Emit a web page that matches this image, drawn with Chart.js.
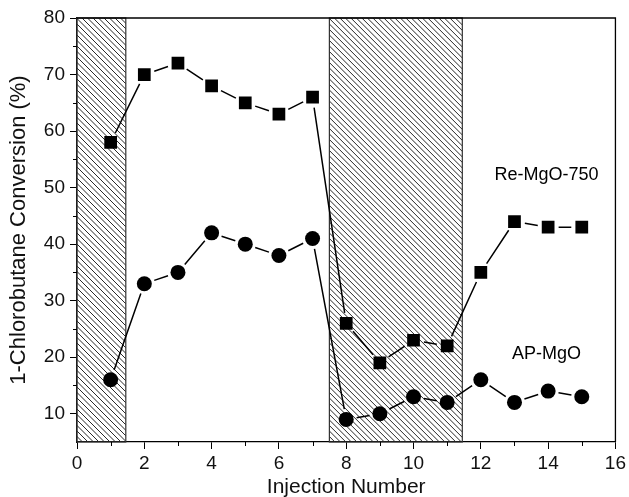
<!DOCTYPE html>
<html>
<head>
<meta charset="utf-8">
<script src="https://cdn.jsdelivr.net/npm/chart.js@4/dist/chart.umd.min.js"></script>
<style>
  html, body { margin: 0; padding: 0; background: #fff; }
  #wrap { width: 629px; height: 497px; }
</style>
</head>
<body>
<div id="wrap"><canvas id="canvas"></canvas></div>
<script>
// injection numbers and conversions
const injections = [1, 2, 3, 4, 5, 6, 7, 8, 9, 10, 11, 12, 13, 14, 15];
const reMgO750 = [58, 70, 72, 68, 65, 63, 66, 26, 19, 23, 22, 35, 44, 43, 43];
const apMgO = [16, 33, 35, 42, 40, 38, 41, 9, 10, 13, 12, 16, 12, 14, 13];

// hatched (shaded) injection ranges
const shadedRanges = [[0, 1.45], [7.5, 11.45]];

// text labels placed in data units
const seriesLabels = [
  { text: 'Re-MgO-750', x: 13.95, y: 52.2 },
  { text: 'AP-MgO', x: 13.95, y: 20.5 }
];

const FONT = '"Liberation Sans", Arial, sans-serif';

function toPoints(ys) {
  return injections.map((x, i) => ({ x: x, y: ys[i] }));
}

// hatch boxes, then connecting lines with little gaps at the markers
const decorPlugin = {
  id: 'decor',
  beforeDatasetsDraw(chart) {
    const ctx = chart.ctx;
    const xs = chart.scales.x, ys = chart.scales.y;
    const top = ys.getPixelForValue(80), bottom = ys.getPixelForValue(5);

    for (let r of shadedRanges) {
      const x0 = xs.getPixelForValue(r[0]), x1 = xs.getPixelForValue(r[1]);
      ctx.save();
      ctx.beginPath();
      ctx.rect(x0, top, x1 - x0, bottom - top);
      ctx.clip();
      ctx.strokeStyle = '#111';
      ctx.lineWidth = 0.9;
      const h = bottom - top;
      ctx.beginPath();
      for (let c = x0 - h; c < x1 + 6; c += 5.5) {
        ctx.moveTo(c, top);
        ctx.lineTo(c + h, bottom);
      }
      ctx.stroke();
      ctx.restore();
      ctx.save();
      ctx.strokeStyle = '#333';
      ctx.lineWidth = 1.2;
      ctx.strokeRect(x0, top, x1 - x0, bottom - top);
      ctx.restore();
    }

    // connecting lines
    chart.data.datasets.forEach((ds, di) => {
      const pts = chart.getDatasetMeta(di).data;
      ctx.save();
      ctx.strokeStyle = '#000';
      ctx.lineWidth = 1.5;
      ctx.beginPath();
      for (let i = 0; i < pts.length - 1; i++) {
        const a = pts[i], b = pts[i + 1];
        const dx = b.x - a.x, dy = b.y - a.y;
        const len = Math.sqrt(dx * dx + dy * dy);
        const gap = 10.5;
        if (len <= gap * 2) continue;
        const ux = dx / len, uy = dy / len;
        ctx.moveTo(a.x + ux * gap, a.y + uy * gap);
        ctx.lineTo(b.x - ux * gap, b.y - uy * gap);
      }
      ctx.stroke();
      ctx.restore();
    });
  },
  afterDraw(chart) {
    const ctx = chart.ctx;
    const area = chart.chartArea;
    const xs = chart.scales.x, ys = chart.scales.y;

    // frame (top and right sides)
    ctx.save();
    ctx.strokeStyle = '#000';
    ctx.lineWidth = 1.3;
    ctx.beginPath();
    ctx.moveTo(area.left, area.top);
    ctx.lineTo(area.right, area.top);
    ctx.lineTo(area.right, area.bottom);
    ctx.stroke();

    // minor ticks
    ctx.lineWidth = 1;
    ctx.beginPath();
    for (let v = 1; v < 16; v += 2) {
      const px = Math.round(xs.getPixelForValue(v)) + 0.5;
      ctx.moveTo(px, area.bottom);
      ctx.lineTo(px, area.bottom + 4);
    }
    for (let v = 15; v < 80; v += 10) {
      const py = Math.round(ys.getPixelForValue(v)) + 0.5;
      ctx.moveTo(area.left, py);
      ctx.lineTo(area.left - 4, py);
    }
    ctx.stroke();

    // series labels
    ctx.fillStyle = '#000';
    ctx.font = '18px ' + FONT;
    ctx.textAlign = 'center';
    ctx.textBaseline = 'middle';
    for (let l of seriesLabels) {
      ctx.fillText(l.text, xs.getPixelForValue(l.x), ys.getPixelForValue(l.y));
    }
    ctx.restore();
  }
};

const ctx = document.getElementById('canvas').getContext('2d');
const myChart = new Chart(ctx, {
  type: 'scatter',
  data: {
    datasets: [
      {
        label: 'Re-MgO-750',
        data: toPoints(reMgO750),
        showLine: false,
        pointStyle: 'rect',
        pointRadius: 9,
        pointBackgroundColor: '#000',
        pointBorderColor: '#000',
        pointBorderWidth: 0
      },
      {
        label: 'AP-MgO',
        data: toPoints(apMgO),
        showLine: false,
        pointStyle: 'circle',
        pointRadius: 7.5,
        pointBackgroundColor: '#000',
        pointBorderColor: '#000',
        pointBorderWidth: 0
      }
    ]
  },
  options: {
    responsive: true,
    maintainAspectRatio: false,
    animation: false,
    events: [],
    layout: { padding: { top: 18, right: 12, left: 0, bottom: 0 } },
    plugins: {
      legend: { display: false },
      tooltip: { enabled: false }
    },
    scales: {
      x: {
        type: 'linear',
        min: 0,
        max: 16,
        afterFit(scale) { scale.height = 55; },
        border: { display: true, color: '#000', width: 1.3 },
        grid: { drawOnChartArea: false, drawTicks: true, tickLength: 7, tickColor: '#000', tickWidth: 1 },
        ticks: {
          stepSize: 2,
          color: '#111',
          padding: 3,
          maxRotation: 0,
          font: { family: FONT, size: 19 }
        },
        title: {
          display: true,
          text: 'Injection Number',
          color: '#111',
          font: { family: FONT, size: 21, lineHeight: 1 },
          padding: { top: 0, bottom: -1 }
        }
      },
      y: {
        type: 'linear',
        min: 5,
        max: 80,
        afterFit(scale) { scale.width = 77; },
        border: { display: true, color: '#000', width: 1.3 },
        grid: { drawOnChartArea: false, drawTicks: true, tickLength: 7, tickColor: '#000', tickWidth: 1 },
        ticks: {
          stepSize: 10,
          includeBounds: false,
          color: '#111',
          padding: 5,
          font: { family: FONT, size: 19 }
        },
        title: {
          display: true,
          text: '1-Chlorobutane Conversion (%)',
          color: '#111',
          font: { family: FONT, size: 22, lineHeight: 1 },
          padding: { top: 8, bottom: 0 }
        }
      }
    }
  },
  plugins: [decorPlugin]
});
</script>
</body>
</html>
